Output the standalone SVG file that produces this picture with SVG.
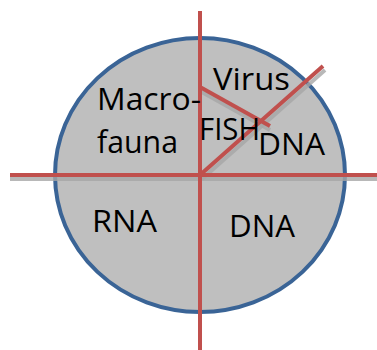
<svg xmlns="http://www.w3.org/2000/svg" width="377" height="350" viewBox="0 0 377 350">
<style>
.t{font-family:"Open Sans","Liberation Sans",Arial,sans-serif;font-size:30.5px;fill:#000}
.r{stroke:#C0504D;stroke-width:4;fill:none}
.s{stroke:#A6A6A6;stroke-width:4;fill:none;opacity:0.8}
</style>
<g id="circle">
<ellipse cx="200" cy="175" rx="145" ry="137" fill="#BFBFBF" stroke="#3A6496" stroke-width="4"/>
</g>
<g id="connectors">
<line class="s" x1="10" y1="179" x2="377" y2="179"/>
<line class="s" x1="202" y1="179" x2="325" y2="70"/>
<line class="s" x1="200" y1="91" x2="270" y2="130"/>
<line class="r" x1="200" y1="11" x2="200" y2="350"/>
<line class="r" x1="10" y1="175" x2="377" y2="175"/>
<line class="r" x1="200" y1="175" x2="323" y2="66"/>
<line class="r" x1="200" y1="87" x2="270" y2="126"/>
</g>
<g id="labels">
<text class="t" x="213" y="90" textLength="77" lengthAdjust="spacingAndGlyphs">Virus</text>
<text class="t" x="97" y="110" textLength="104" lengthAdjust="spacingAndGlyphs">Macro-</text>
<text class="t" x="97" y="153" textLength="81" lengthAdjust="spacingAndGlyphs">fauna</text>
<text class="t" x="199" y="140" textLength="61" lengthAdjust="spacingAndGlyphs">FISH</text>
<text class="t" x="258" y="155" textLength="67" lengthAdjust="spacingAndGlyphs">DNA</text>
<text class="t" x="92" y="232" textLength="65" lengthAdjust="spacingAndGlyphs">RNA</text>
<text class="t" x="229" y="237" textLength="66" lengthAdjust="spacingAndGlyphs">DNA</text>
</g>
</svg>
